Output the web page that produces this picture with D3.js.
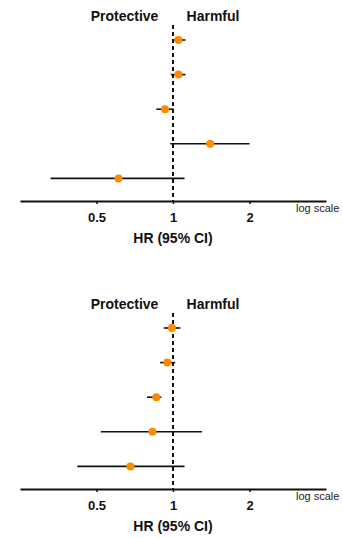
<!DOCTYPE html>
<html>
<head>
<meta charset="utf-8">
<title>forest plots</title>
<style>
  body { margin: 0; background: #fff; }
  svg text { font-family: "Liberation Sans", Arial, sans-serif; }
</style>
<script src="https://cdnjs.cloudflare.com/ajax/libs/d3/7.8.5/d3.min.js"></script>
</head>
<body>
<svg width="343" height="538"></svg>
<script>
// hazard ratios and 95% CI (top panel, then bottom panel)
var hrTop = [1.05, 1.05, 0.93, 1.40, 0.61];
var loTop = [1.00, 0.98, 0.86, 0.975, 0.33];
var hiTop = [1.12, 1.12, 1.005, 2.00, 1.11];

var hrBottom = [0.99, 0.95, 0.86, 0.83, 0.68];
var loBottom = [0.92, 0.89, 0.79, 0.52, 0.42];
var hiBottom = [1.07, 1.02, 0.90, 1.30, 1.11];

var tickValues = [0.5, 1, 2];
var xDomain = [0.25, 4];

var svg = d3.select("svg");

var x = d3.scaleLog().base(2).domain(xDomain).range([20, 326]);

function panel(offset, hr, lo, hi) {
  var rows = hr.map(function(d, i) { return { hr: d, lo: lo[i], hi: hi[i], i: i }; });
  var y = d3.scalePoint().domain(d3.range(rows.length)).range([40, 178.4]);
  var g = svg.append("g").attr("transform", "translate(0," + offset + ")");
  var axisY = 201;

  // reference line at HR = 1
  g.append("line")
    .attr("x1", x(1)).attr("x2", x(1))
    .attr("y1", 25).attr("y2", axisY)
    .attr("stroke", "#111")
    .attr("stroke-width", 2)
    .attr("stroke-dasharray", "4,3");

  var ax = g.append("g")
    .attr("transform", "translate(0," + axisY + ")")
    .call(d3.axisBottom(x).tickValues(tickValues).tickSize(3).tickSizeOuter(0).tickPadding(9)
      .tickFormat(function(d) { return d; }));
  ax.select(".domain").attr("stroke", "#111").attr("stroke-width", 2);
  ax.selectAll(".tick line").attr("stroke", "#111").attr("stroke-width", 1.5);
  ax.selectAll(".tick text")
    .attr("fill", "#111")
    .style("font-family", "'Liberation Sans', Arial, sans-serif")
    .style("font-size", "13px")
    .style("font-weight", "bold");

  // CI lines
  g.selectAll(".ci").data(rows).enter().append("line")
    .attr("class", "ci")
    .attr("x1", function(d) { return x(d.lo); })
    .attr("x2", function(d) { return x(d.hi); })
    .attr("y1", function(d) { return y(d.i); })
    .attr("y2", function(d) { return y(d.i); })
    .attr("stroke", "#111")
    .attr("stroke-width", 1.6);

  g.selectAll(".pt").data(rows).enter().append("circle")
    .attr("class", "pt")
    .attr("cx", function(d) { return x(d.hr); })
    .attr("cy", function(d) { return y(d.i); })
    .attr("r", 4)
    .attr("fill", "#ff8a00");

  g.append("text").attr("x", 124.5).attr("y", 21)
    .attr("text-anchor", "middle")
    .style("font-size", "14px").style("font-weight", "bold").attr("fill", "#111")
    .text("Protective");
  g.append("text").attr("x", 213).attr("y", 21)
    .attr("text-anchor", "middle")
    .style("font-size", "14px").style("font-weight", "bold").attr("fill", "#111")
    .text("Harmful");

  g.append("text").attr("x", 296).attr("y", 212)
    .style("font-size", "11px").attr("fill", "#222")
    .text("log scale");

  g.append("text").attr("x", 173).attr("y", 243)
    .attr("text-anchor", "middle")
    .style("font-size", "14px").style("font-weight", "bold").attr("fill", "#111")
    .text("HR (95% CI)");
}

panel(0, hrTop, loTop, hiTop);
panel(288, hrBottom, loBottom, hiBottom);
</script>
</body>
</html>
